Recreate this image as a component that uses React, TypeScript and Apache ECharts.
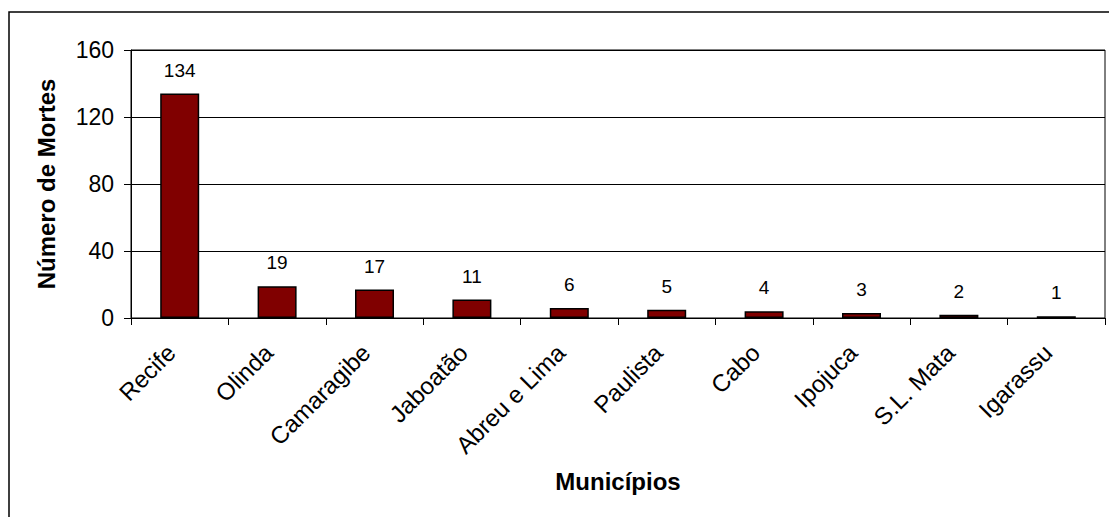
import React, { useEffect, useRef } from "react";
import * as echarts from "echarts";

const categories = ["Recife", "Olinda", "Camaragibe", "Jaboatão", "Abreu e Lima", "Paulista", "Cabo", "Ipojuca", "S.L. Mata", "Igarassu"];
const deaths = [134, 19, 17, 11, 6, 5, 4, 3, 2, 1];
const yTicks = { min: 0, max: 160, interval: 40 };
const yName = "Número de Mortes";
const xName = "Municípios";

const FONT = "'Liberation Sans', Arial, sans-serif";

export default function App() {
  const ref = useRef<HTMLDivElement>(null);
  useEffect(() => {
    document.body.style.margin = "0";
    const chart = echarts.init(ref.current!, null, { renderer: "svg" });
    chart.setOption({
      animation: false,
      backgroundColor: "#fff",
      textStyle: { fontFamily: FONT, color: "#000" },
      graphic: [
        {
          type: "rect",
          shape: { x: 9, y: 12, width: 1120, height: 530 },
          style: { fill: "none", stroke: "#000", lineWidth: 1.5 },
          silent: true,
        },
      ],
      grid: {
        left: 131,
        top: 50,
        right: 4,
        bottom: 199,
        show: true,
        borderColor: "#000",
        borderWidth: 1,
        containLabel: false,
      },
      xAxis: {
        type: "category",
        data: categories,
        name: xName,
        nameLocation: "middle",
        nameGap: 151,
        nameTextStyle: { fontFamily: FONT, fontSize: 24, fontWeight: "bold", color: "#000" },
        axisLine: { show: true, lineStyle: { color: "#000", width: 1 } },
        axisTick: { show: true, length: 7, lineStyle: { color: "#000" } },
        axisLabel: {
          rotate: 45,
          margin: 22,
          padding: [0, 12, 0, 0],
          fontFamily: FONT,
          fontSize: 24,
          color: "#000",
          interval: 0,
        },
        splitLine: { show: false },
      },
      yAxis: {
        type: "value",
        min: yTicks.min,
        max: yTicks.max,
        interval: yTicks.interval,
        name: yName,
        nameLocation: "middle",
        nameGap: 73,
        nameRotate: 90,
        nameTextStyle: { fontFamily: FONT, fontSize: 24, fontWeight: "bold", color: "#000" },
        axisLine: { show: true, lineStyle: { color: "#000", width: 1 } },
        axisTick: { show: true, length: 7, lineStyle: { color: "#000" } },
        axisLabel: { margin: 17, fontFamily: FONT, fontSize: 23, color: "#000" },
        splitLine: { show: true, lineStyle: { color: "#000", width: 1 } },
      },
      series: [
        {
          type: "bar",
          data: deaths,
          barWidth: 39,
          itemStyle: { color: "#800000", borderColor: "#000", borderWidth: 1.5 },
          label: {
            show: true,
            position: "top",
            distance: 14,
            fontFamily: FONT,
            fontSize: 19,
            color: "#000",
          },
        },
      ],
    });
    return () => chart.dispose();
  }, []);
  return <div ref={ref} style={{ width: 1109, height: 517 }} />;
}
